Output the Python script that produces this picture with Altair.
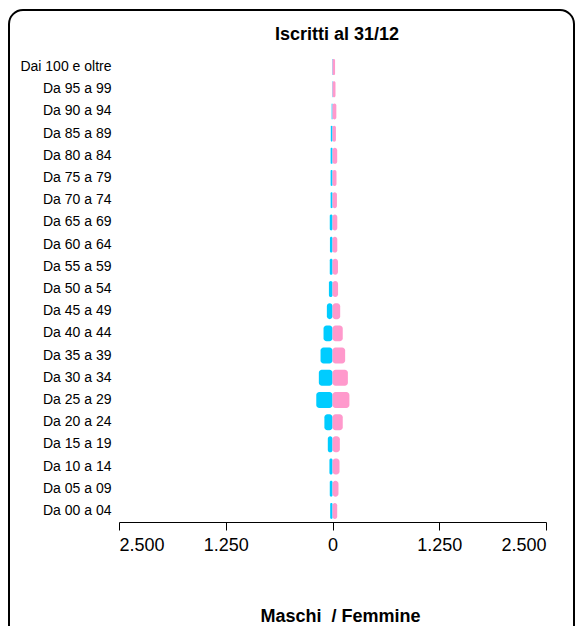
import altair as alt
import pandas as pd

fasce = ["Dai 100 e oltre", "Da 95 a 99", "Da 90 a 94", "Da 85 a 89", "Da 80 a 84",
         "Da 75 a 79", "Da 70 a 74", "Da 65 a 69", "Da 60 a 64", "Da 55 a 59",
         "Da 50 a 54", "Da 45 a 49", "Da 40 a 44", "Da 35 a 39", "Da 30 a 34",
         "Da 25 a 29", "Da 20 a 24", "Da 15 a 19", "Da 10 a 14", "Da 05 a 09",
         "Da 00 a 04"]
maschi = [5, 5, 10, 20, 22, 22, 22, 32, 30, 32, 42, 66, 105, 140, 160, 190, 95, 55, 36, 32, 27]
femmine = [30, 35, 45, 40, 55, 47, 52, 56, 56, 64, 65, 90, 120, 148, 180, 198, 120, 86, 82, 70, 55]
tick_values = [-2500, -1250, 0, 1250, 2500]
titolo = "Iscritti al 31/12"
titolo_asse = "Maschi\u00a0 / Femmine"

rows = []
for f, m, w in zip(fasce, maschi, femmine):
    rows.append({"fascia": f, "sesso": "Maschi", "valore": -m})
    rows.append({"fascia": f, "sesso": "Femmine", "valore": w})
df = pd.DataFrame(rows)

FONT = "Liberation Sans"

bars = alt.Chart(df).mark_bar(cornerRadius=3).encode(
    x=alt.X("valore:Q", stack=None,
            scale=alt.Scale(domain=[-2500, 2500], nice=False),
            axis=alt.Axis(values=tick_values, grid=False,
                          labelExpr="replace(format(abs(datum.value), ',d'), ',', '.')",
                          labelFont=FONT, labelFontSize=18, labelColor="black",
                          labelPadding=6, tickSize=8, tickColor="black",
                          domainColor="black", title=titolo_asse,
                          titleFont=FONT, titleFontSize=18, titleFontWeight="bold",
                          titleColor="black", titlePadding=53, titleX=221,
                          titleAlign="center")),
    y=alt.Y("fascia:N", sort=fasce,
            scale=alt.Scale(paddingInner=0.28, paddingOuter=0.14),
            axis=alt.Axis(title=None, domain=False, ticks=False, labelFont=FONT,
                          labelFontSize=14, labelColor="black", labelPadding=8)),
    color=alt.Color("sesso:N", legend=None,
                    scale=alt.Scale(domain=["Maschi", "Femmine"],
                                    range=["#00ccff", "#ff99cc"])),
    order=alt.Order("sesso:N", sort="descending"),
)

one = pd.DataFrame({"t": [titolo]})

title_mark = alt.Chart(one).mark_text(
    font=FONT, fontSize=18, fontWeight="bold", color="black",
    align="center", baseline="alphabetic"
).encode(x=alt.value(218), y=alt.value(-16), text="t:N")

frame = alt.Chart(one).mark_rect(
    filled=False, stroke="black", strokeWidth=2, cornerRadius=14
).encode(
    x=alt.value(-110), x2=alt.value(455), y=alt.value(-46), y2=alt.value(620)
)

chart = alt.layer(bars, title_mark, frame).properties(
    width=427, height=466,
    autosize=alt.AutoSizeParams(type="none"),
    padding={"left": 111, "top": 48, "right": 29, "bottom": 104},
).configure_view(stroke=None)

chart.save("out.html", embed_options={"renderer": "svg", "actions": False})
